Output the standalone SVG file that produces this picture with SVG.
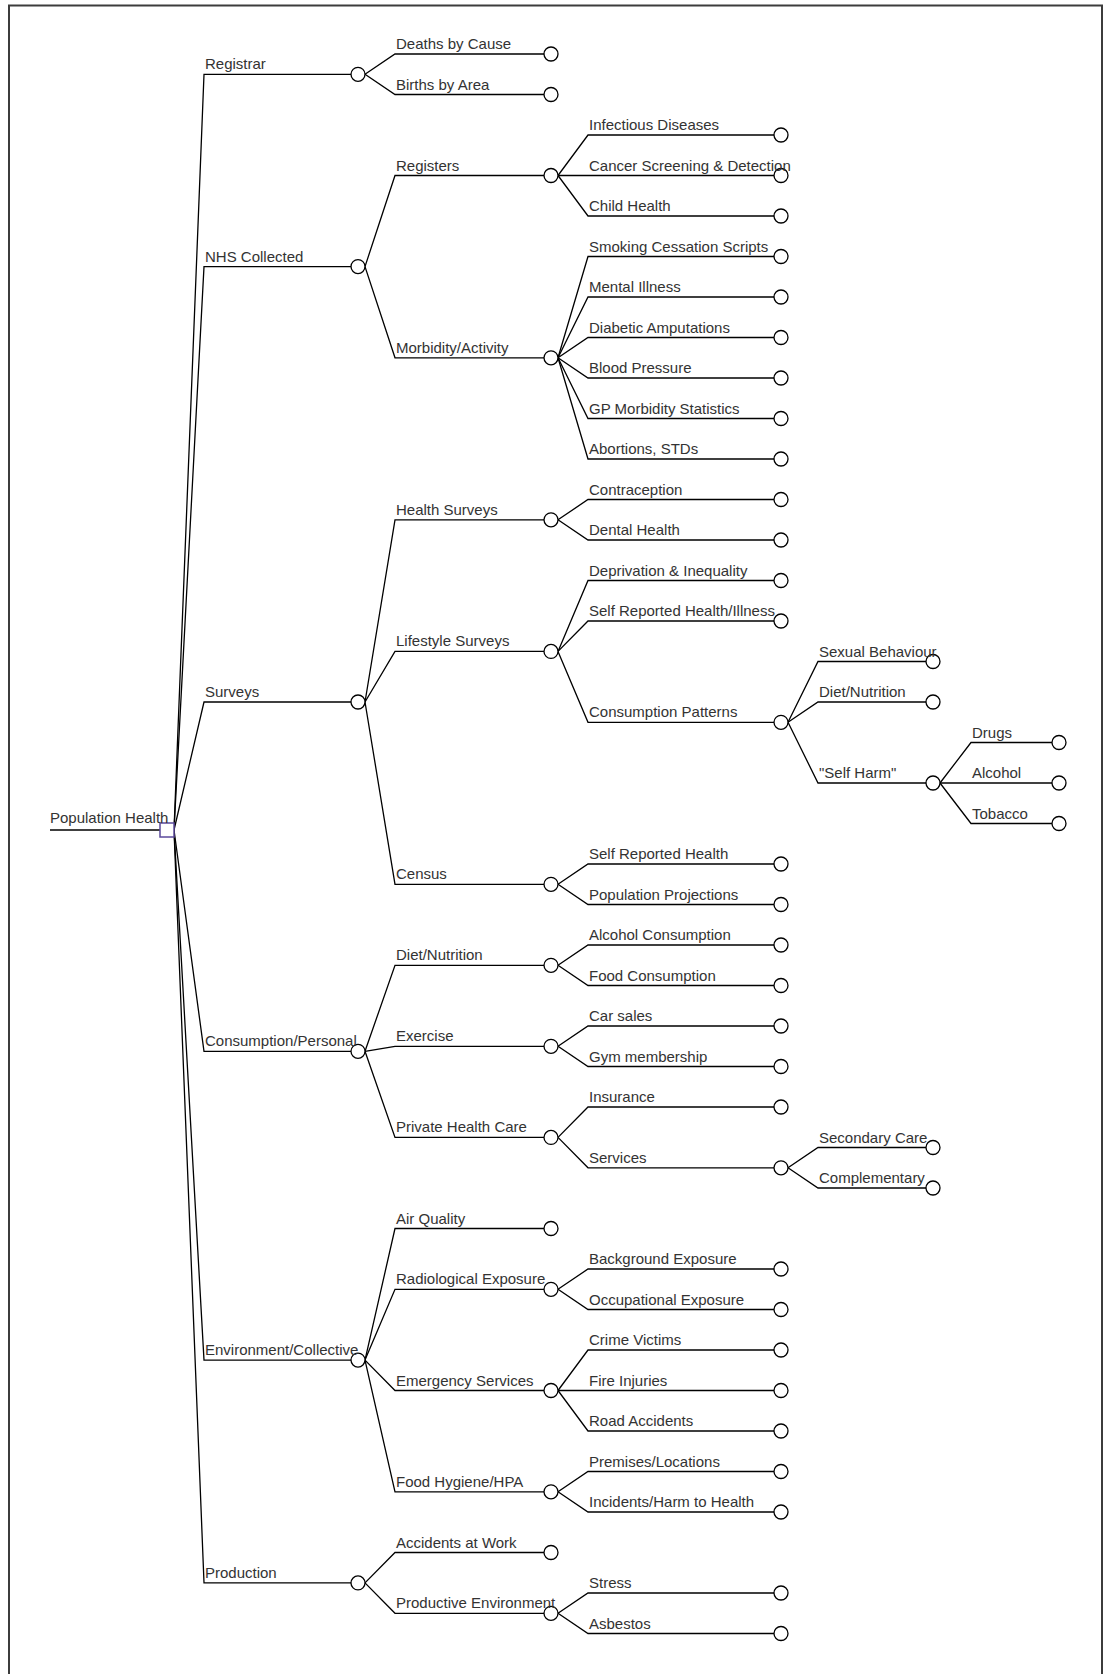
<svg xmlns="http://www.w3.org/2000/svg" width="1111" height="1674" viewBox="0 0 1111 1674">
  <style>
    .ln { fill: none; stroke: #000; stroke-width: 1.3; }
    .nd { fill: #fff; stroke: #000; stroke-width: 1.3; }
    .rt { fill: #fff; stroke: #5b4a9c; stroke-width: 1.5; }
    text { font-family: "Liberation Sans", Arial, Helvetica, sans-serif; font-size: 15px; fill: #333; }
  </style>

  <!-- page frame -->
  <rect x="9" y="5.5" width="1093" height="1690" fill="#fff" stroke="#3c3c3c" stroke-width="2"/>

  <!-- connectors: diagonal from parent, then horizontal run to the child's node -->
  <g id="connectors">
    <path class="ln" d="M50 830 H160" stroke="#555"/>
    <!-- root -->
    <path class="ln" d="M174 830 L204 74.3 H351"/>
    <path class="ln" d="M174 830 L204 266.6 H351"/>
    <path class="ln" d="M174 830 L204 702 H351"/>
    <path class="ln" d="M174 830 L204 1051.3 H351"/>
    <path class="ln" d="M174 830 L204 1360.1 H351"/>
    <path class="ln" d="M174 830 L204 1582.9 H351"/>
    <!-- Registrar -->
    <path class="ln" d="M365 74.3 L395 54 H544"/>
    <path class="ln" d="M365 74.3 L395 94.5 H544"/>
    <!-- NHS Collected -->
    <path class="ln" d="M365 266.6 L395 175.5 H544"/>
    <path class="ln" d="M365 266.6 L395 357.8 H544"/>
    <!-- Registers -->
    <path class="ln" d="M558 175.5 L588 135 H774"/>
    <path class="ln" d="M558 175.5 L588 175.5 H774"/>
    <path class="ln" d="M558 175.5 L588 216 H774"/>
    <!-- Morbidity/Activity -->
    <path class="ln" d="M558 357.8 L588 256.5 H774"/>
    <path class="ln" d="M558 357.8 L588 297 H774"/>
    <path class="ln" d="M558 357.8 L588 337.5 H774"/>
    <path class="ln" d="M558 357.8 L588 378 H774"/>
    <path class="ln" d="M558 357.8 L588 418.5 H774"/>
    <path class="ln" d="M558 357.8 L588 459 H774"/>
    <!-- Surveys -->
    <path class="ln" d="M365 702 L395 519.8 H544"/>
    <path class="ln" d="M365 702 L395 651.4 H544"/>
    <path class="ln" d="M365 702 L395 884.3 H544"/>
    <!-- Health Surveys -->
    <path class="ln" d="M558 519.8 L588 499.5 H774"/>
    <path class="ln" d="M558 519.8 L588 540 H774"/>
    <!-- Lifestyle Surveys -->
    <path class="ln" d="M558 651.4 L588 580.5 H774"/>
    <path class="ln" d="M558 651.4 L588 621 H774"/>
    <path class="ln" d="M558 651.4 L588 722.3 H774"/>
    <!-- Consumption Patterns -->
    <path class="ln" d="M788 722.3 L818 661.5 H926"/>
    <path class="ln" d="M788 722.3 L818 702 H926"/>
    <path class="ln" d="M788 722.3 L818 783 H926"/>
    <!-- "Self Harm" -->
    <path class="ln" d="M940 783 L971 742.5 H1052"/>
    <path class="ln" d="M940 783 L971 783 H1052"/>
    <path class="ln" d="M940 783 L971 823.5 H1052"/>
    <!-- Census -->
    <path class="ln" d="M558 884.3 L588 864 H774"/>
    <path class="ln" d="M558 884.3 L588 904.5 H774"/>
    <!-- Consumption/Personal -->
    <path class="ln" d="M365 1051.3 L395 965.3 H544"/>
    <path class="ln" d="M365 1051.3 L395 1046.3 H544"/>
    <path class="ln" d="M365 1051.3 L395 1137.4 H544"/>
    <!-- Diet/Nutrition -->
    <path class="ln" d="M558 965.3 L588 945 H774"/>
    <path class="ln" d="M558 965.3 L588 985.5 H774"/>
    <!-- Exercise -->
    <path class="ln" d="M558 1046.3 L588 1026 H774"/>
    <path class="ln" d="M558 1046.3 L588 1066.5 H774"/>
    <!-- Private Health Care -->
    <path class="ln" d="M558 1137.4 L588 1107 H774"/>
    <path class="ln" d="M558 1137.4 L588 1167.8 H774"/>
    <!-- Services -->
    <path class="ln" d="M788 1167.8 L818 1147.5 H926"/>
    <path class="ln" d="M788 1167.8 L818 1188 H926"/>
    <!-- Environment/Collective -->
    <path class="ln" d="M365 1360.1 L395 1228.5 H544"/>
    <path class="ln" d="M365 1360.1 L395 1289.3 H544"/>
    <path class="ln" d="M365 1360.1 L395 1390.5 H544"/>
    <path class="ln" d="M365 1360.1 L395 1491.8 H544"/>
    <!-- Radiological Exposure -->
    <path class="ln" d="M558 1289.3 L588 1269 H774"/>
    <path class="ln" d="M558 1289.3 L588 1309.5 H774"/>
    <!-- Emergency Services -->
    <path class="ln" d="M558 1390.5 L588 1350 H774"/>
    <path class="ln" d="M558 1390.5 L588 1390.5 H774"/>
    <path class="ln" d="M558 1390.5 L588 1431 H774"/>
    <!-- Food Hygiene/HPA -->
    <path class="ln" d="M558 1491.8 L588 1471.5 H774"/>
    <path class="ln" d="M558 1491.8 L588 1512 H774"/>
    <!-- Production -->
    <path class="ln" d="M365 1582.9 L395 1552.5 H544"/>
    <path class="ln" d="M365 1582.9 L395 1613.3 H544"/>
    <!-- Productive Environment -->
    <path class="ln" d="M558 1613.3 L588 1593 H774"/>
    <path class="ln" d="M558 1613.3 L588 1633.5 H774"/>
  </g>

  <!-- root -->
  <g id="n-population-health"><rect class="rt" x="160" y="823" width="14" height="14"/><text x="50" y="823">Population Health</text></g>

  <!-- level 1 -->
  <g id="n-registrar"><circle class="nd" cx="358" cy="74.3" r="7"/><text x="205" y="69">Registrar</text></g>
  <g id="n-nhs-collected"><circle class="nd" cx="358" cy="266.6" r="7"/><text x="205" y="261.5">NHS Collected</text></g>
  <g id="n-surveys"><circle class="nd" cx="358" cy="702" r="7"/><text x="205" y="697">Surveys</text></g>
  <g id="n-consumption-personal"><circle class="nd" cx="358" cy="1051.3" r="7"/><text x="205" y="1046">Consumption/Personal</text></g>
  <g id="n-environment-collective"><circle class="nd" cx="358" cy="1360.1" r="7"/><text x="205" y="1355">Environment/Collective</text></g>
  <g id="n-production"><circle class="nd" cx="358" cy="1582.9" r="7"/><text x="205" y="1578">Production</text></g>

  <!-- level 2 -->
  <g id="n-deaths-by-cause"><circle class="nd" cx="551" cy="54" r="7"/><text x="396" y="49">Deaths by Cause</text></g>
  <g id="n-births-by-area"><circle class="nd" cx="551" cy="94.5" r="7"/><text x="396" y="89.5">Births by Area</text></g>
  <g id="n-registers"><circle class="nd" cx="551" cy="175.5" r="7"/><text x="396" y="170.5">Registers</text></g>
  <g id="n-morbidity-activity"><circle class="nd" cx="551" cy="357.8" r="7"/><text x="396" y="352.8">Morbidity/Activity</text></g>
  <g id="n-health-surveys"><circle class="nd" cx="551" cy="519.8" r="7"/><text x="396" y="514.8">Health Surveys</text></g>
  <g id="n-lifestyle-surveys"><circle class="nd" cx="551" cy="651.4" r="7"/><text x="396" y="646.4">Lifestyle Surveys</text></g>
  <g id="n-census"><circle class="nd" cx="551" cy="884.3" r="7"/><text x="396" y="879.3">Census</text></g>
  <g id="n-diet-nutrition"><circle class="nd" cx="551" cy="965.3" r="7"/><text x="396" y="960.3">Diet/Nutrition</text></g>
  <g id="n-exercise"><circle class="nd" cx="551" cy="1046.3" r="7"/><text x="396" y="1041.3">Exercise</text></g>
  <g id="n-private-health-care"><circle class="nd" cx="551" cy="1137.4" r="7"/><text x="396" y="1132.4">Private Health Care</text></g>
  <g id="n-air-quality"><circle class="nd" cx="551" cy="1228.5" r="7"/><text x="396" y="1223.5">Air Quality</text></g>
  <g id="n-radiological-exposure"><circle class="nd" cx="551" cy="1289.3" r="7"/><text x="396" y="1284.3">Radiological Exposure</text></g>
  <g id="n-emergency-services"><circle class="nd" cx="551" cy="1390.5" r="7"/><text x="396" y="1385.5">Emergency Services</text></g>
  <g id="n-food-hygiene-hpa"><circle class="nd" cx="551" cy="1491.8" r="7"/><text x="396" y="1486.8">Food Hygiene/HPA</text></g>
  <g id="n-accidents-at-work"><circle class="nd" cx="551" cy="1552.5" r="7"/><text x="396" y="1547.5">Accidents at Work</text></g>
  <g id="n-productive-environment"><circle class="nd" cx="551" cy="1613.3" r="7"/><text x="396" y="1608.3">Productive Environment</text></g>

  <!-- level 3 -->
  <g id="n-infectious-diseases"><circle class="nd" cx="781" cy="135" r="7"/><text x="589" y="130">Infectious Diseases</text></g>
  <g id="n-cancer-screening"><circle class="nd" cx="781" cy="175.5" r="7"/><text x="589" y="170.5">Cancer Screening &amp; Detection</text></g>
  <g id="n-child-health"><circle class="nd" cx="781" cy="216" r="7"/><text x="589" y="211">Child Health</text></g>
  <g id="n-smoking-cessation"><circle class="nd" cx="781" cy="256.5" r="7"/><text x="589" y="251.5">Smoking Cessation Scripts</text></g>
  <g id="n-mental-illness"><circle class="nd" cx="781" cy="297" r="7"/><text x="589" y="292">Mental Illness</text></g>
  <g id="n-diabetic-amputations"><circle class="nd" cx="781" cy="337.5" r="7"/><text x="589" y="332.5">Diabetic Amputations</text></g>
  <g id="n-blood-pressure"><circle class="nd" cx="781" cy="378" r="7"/><text x="589" y="373">Blood Pressure</text></g>
  <g id="n-gp-morbidity"><circle class="nd" cx="781" cy="418.5" r="7"/><text x="589" y="413.5">GP Morbidity Statistics</text></g>
  <g id="n-abortions-stds"><circle class="nd" cx="781" cy="459" r="7"/><text x="589" y="454">Abortions, STDs</text></g>
  <g id="n-contraception"><circle class="nd" cx="781" cy="499.5" r="7"/><text x="589" y="494.5">Contraception</text></g>
  <g id="n-dental-health"><circle class="nd" cx="781" cy="540" r="7"/><text x="589" y="535">Dental Health</text></g>
  <g id="n-deprivation"><circle class="nd" cx="781" cy="580.5" r="7"/><text x="589" y="575.5">Deprivation &amp; Inequality</text></g>
  <g id="n-self-reported-illness"><circle class="nd" cx="781" cy="621" r="7"/><text x="589" y="616">Self Reported Health/Illness</text></g>
  <g id="n-consumption-patterns"><circle class="nd" cx="781" cy="722.3" r="7"/><text x="589" y="717.3">Consumption Patterns</text></g>
  <g id="n-self-reported-health"><circle class="nd" cx="781" cy="864" r="7"/><text x="589" y="859">Self Reported Health</text></g>
  <g id="n-population-projections"><circle class="nd" cx="781" cy="904.5" r="7"/><text x="589" y="899.5">Population Projections</text></g>
  <g id="n-alcohol-consumption"><circle class="nd" cx="781" cy="945" r="7"/><text x="589" y="940">Alcohol Consumption</text></g>
  <g id="n-food-consumption"><circle class="nd" cx="781" cy="985.5" r="7"/><text x="589" y="980.5">Food Consumption</text></g>
  <g id="n-car-sales"><circle class="nd" cx="781" cy="1026" r="7"/><text x="589" y="1021">Car sales</text></g>
  <g id="n-gym-membership"><circle class="nd" cx="781" cy="1066.5" r="7"/><text x="589" y="1061.5">Gym membership</text></g>
  <g id="n-insurance"><circle class="nd" cx="781" cy="1107" r="7"/><text x="589" y="1102">Insurance</text></g>
  <g id="n-services"><circle class="nd" cx="781" cy="1167.8" r="7"/><text x="589" y="1162.8">Services</text></g>
  <g id="n-background-exposure"><circle class="nd" cx="781" cy="1269" r="7"/><text x="589" y="1264">Background Exposure</text></g>
  <g id="n-occupational-exposure"><circle class="nd" cx="781" cy="1309.5" r="7"/><text x="589" y="1304.5">Occupational Exposure</text></g>
  <g id="n-crime-victims"><circle class="nd" cx="781" cy="1350" r="7"/><text x="589" y="1345">Crime Victims</text></g>
  <g id="n-fire-injuries"><circle class="nd" cx="781" cy="1390.5" r="7"/><text x="589" y="1385.5">Fire Injuries</text></g>
  <g id="n-road-accidents"><circle class="nd" cx="781" cy="1431" r="7"/><text x="589" y="1426">Road Accidents</text></g>
  <g id="n-premises-locations"><circle class="nd" cx="781" cy="1471.5" r="7"/><text x="589" y="1466.5">Premises/Locations</text></g>
  <g id="n-incidents-harm"><circle class="nd" cx="781" cy="1512" r="7"/><text x="589" y="1507">Incidents/Harm to Health</text></g>
  <g id="n-stress"><circle class="nd" cx="781" cy="1593" r="7"/><text x="589" y="1588">Stress</text></g>
  <g id="n-asbestos"><circle class="nd" cx="781" cy="1633.5" r="7"/><text x="589" y="1628.5">Asbestos</text></g>

  <!-- level 4 -->
  <g id="n-sexual-behaviour"><circle class="nd" cx="933" cy="661.5" r="7"/><text x="819" y="656.5">Sexual Behaviour</text></g>
  <g id="n-diet-nutrition-habits"><circle class="nd" cx="933" cy="702" r="7"/><text x="819" y="697">Diet/Nutrition</text></g>
  <g id="n-self-harm"><circle class="nd" cx="933" cy="783" r="7"/><text x="819" y="778">"Self Harm"</text></g>
  <g id="n-secondary-care"><circle class="nd" cx="933" cy="1147.5" r="7"/><text x="819" y="1142.5">Secondary Care</text></g>
  <g id="n-complementary"><circle class="nd" cx="933" cy="1188" r="7"/><text x="819" y="1183">Complementary</text></g>

  <!-- level 5 -->
  <g id="n-drugs"><circle class="nd" cx="1059" cy="742.5" r="7"/><text x="972" y="737.5">Drugs</text></g>
  <g id="n-alcohol"><circle class="nd" cx="1059" cy="783" r="7"/><text x="972" y="778">Alcohol</text></g>
  <g id="n-tobacco"><circle class="nd" cx="1059" cy="823.5" r="7"/><text x="972" y="818.5">Tobacco</text></g>
</svg>
